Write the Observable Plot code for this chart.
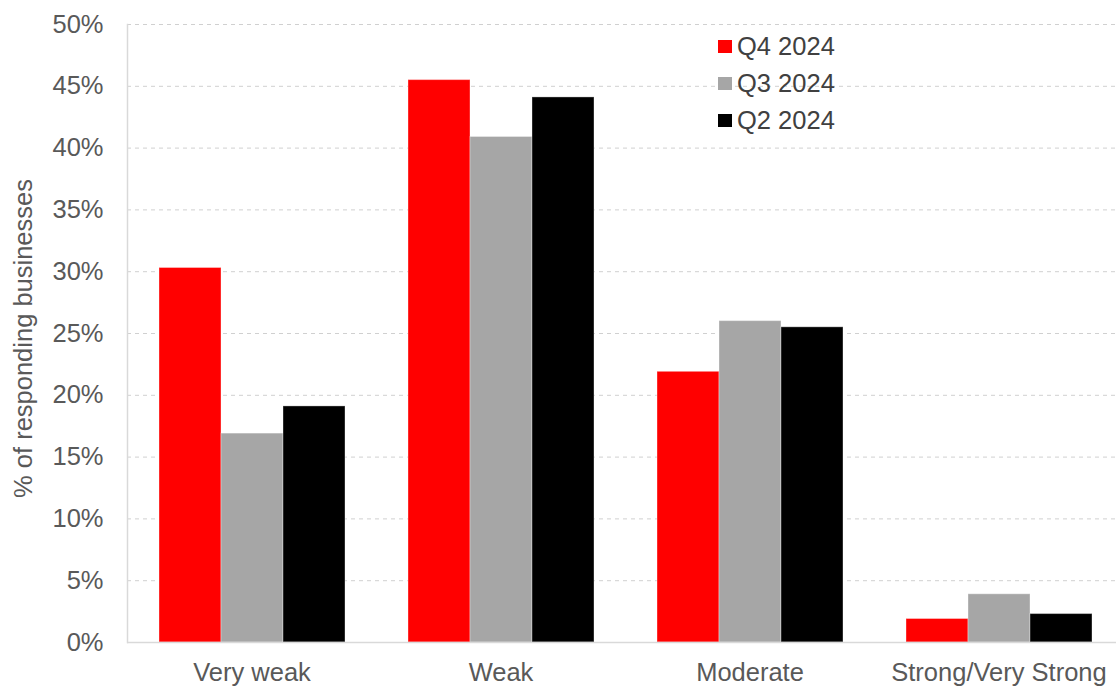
<!DOCTYPE html>
<html>
<head>
<meta charset="utf-8">
<script src="https://cdn.jsdelivr.net/npm/d3@7"></script>
<script src="https://cdn.jsdelivr.net/npm/@observablehq/plot@0.6"></script>
<style>
  html, body { margin: 0; padding: 0; background: #fff; }
  #wrap { position: relative; width: 1116px; height: 686px; overflow: hidden; font-family: "Liberation Sans", Arial, sans-serif; }
  #wrap svg { position: absolute; left: 0; top: 0; }
  #legend { position: absolute; left: 718px; top: 28px; font-size: 25.5px; color: #404040; }
  #legend .item { display: flex; align-items: center; height: 37px; }
  #legend .sw { width: 14px; height: 13px; margin-right: 5px; }
</style>
</head>
<body>
<div id="wrap"><div id="legend"></div></div>
<script>
const categories = ["Very weak", "Weak", "Moderate", "Strong/Very Strong"];
const series = ["Q4 2024", "Q3 2024", "Q2 2024"];
const colors = ["#ff0000", "#a6a6a6", "#000000"];
const q4 = [30.3, 45.5, 21.9, 1.9];
const q3 = [16.9, 40.9, 26.0, 3.9];
const q2 = [19.1, 44.1, 25.5, 2.3];
const yTicks = [0, 5, 10, 15, 20, 25, 30, 35, 40, 45, 50];
const yTitle = "% of responding businesses";

const values = [q4, q3, q2];
const data = [];
categories.forEach((c, i) => series.forEach((s, j) => data.push({category: c, series: s, value: values[j][i]})));

const common = {
  width: 1116,
  height: 686,
  marginLeft: 127,
  marginRight: 0,
  marginTop: 24,
  marginBottom: 44,
  style: {fontFamily: "'Liberation Sans', Arial, sans-serif", fontSize: "25.5px", color: "#595959", background: "transparent"},
  y: {domain: [0, 50], axis: null}
};

// Background layer: grid, y tick labels, y title
const back = Plot.plot({
  ...common,
  style: {...common.style, background: "white"},
  marks: [
    Plot.gridY(yTicks.filter(d => d > 0), {stroke: "#d0d0d0", strokeOpacity: 1, strokeDasharray: "4,4"}),
    Plot.axisY(yTicks, {tickSize: 0, tickPadding: 24, tickFormat: d => `${d}%`, label: null, fill: "#595959"}),
    Plot.text([yTitle], {text: d => d, frameAnchor: "left", textAnchor: "middle", rotate: -90, dx: -104, dy: 5, fill: "#595959", fontSize: 25.5})
  ]
});

// Foreground layer: grouped bars (faceted by category)
const front = Plot.plot({
  ...common,
  marginRight: -7,
  fx: {domain: categories, paddingInner: 0.25, paddingOuter: 0.125, label: null, tickSize: 0, tickPadding: 20},
  x: {domain: series, padding: 0, axis: null},
  color: {domain: series, range: colors},
  marks: [
    Plot.barY(data, {fx: "category", x: "series", y: "value", fill: "series", stroke: "#ffffff", strokeOpacity: 0.35, strokeWidth: 1})
  ]
});

// Axis lines layer (drawn over bars)
const lines = Plot.plot({
  ...common,
  marks: [
    Plot.ruleY([0], {stroke: "#d9d9d9", strokeOpacity: 1, strokeWidth: 1.5}),
    Plot.frame({anchor: "left", stroke: "#d9d9d9", strokeWidth: 1.5})
  ]
});

const wrap = document.getElementById("wrap");
const legendEl = document.getElementById("legend");
wrap.insertBefore(back, legendEl);
wrap.insertBefore(front, legendEl);
wrap.insertBefore(lines, legendEl);

series.forEach((s, i) => {
  const item = document.createElement("div");
  item.className = "item";
  const sw = document.createElement("span");
  sw.className = "sw";
  sw.style.background = colors[i];
  const t = document.createElement("span");
  t.textContent = s;
  item.appendChild(sw);
  item.appendChild(t);
  legendEl.appendChild(item);
});
</script>
</body>
</html>
